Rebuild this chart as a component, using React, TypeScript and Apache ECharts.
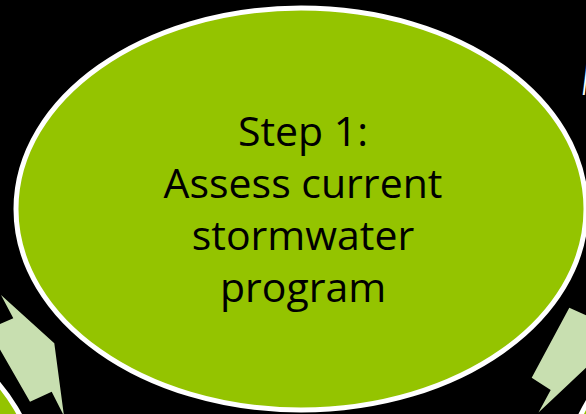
import React, { useEffect, useRef } from "react";
import * as echarts from "echarts";

// Content
const stepLines: string[] = ["Step 1:", "Assess current", "stormwater", "program"];
const cornerLabel: string[] = ["M"];

// Palette
const COLORS = {
  background: "#000000",
  ellipseFill: "#94C400",
  ellipseStroke: "#FFFFFF",
  arrowFill: "#C8DFB0",
  text: "#000000",
  cornerText: "#FFFFFF",
};

const W = 586;
const H = 414;

export default function App() {
  const ref = useRef<HTMLDivElement | null>(null);

  useEffect(() => {
    document.body.style.margin = "0";
    document.body.style.background = "#000";
    if (!ref.current) return;
    const chart = echarts.init(ref.current, undefined, { renderer: "svg", width: W, height: H });

    const ellipse = (cx: number, cy: number, rx: number, ry: number) => ({
      type: "ellipse",
      shape: { cx, cy, rx, ry },
      style: { fill: COLORS.ellipseFill, stroke: COLORS.ellipseStroke, lineWidth: 5 },
      silent: true,
    });

    const arrow = (points: number[][]) => ({
      type: "polygon",
      shape: { points },
      style: { fill: COLORS.arrowFill },
      silent: true,
    });

    chart.setOption({
      animation: false,
      backgroundColor: COLORS.background,
      graphic: [
        // neighbouring cycle steps (partially visible)
        ellipse(-247, 486, 285, 201),
        ellipse(851, 479, 285, 201),
        // arrows
        arrow([
          [1, 295],
          [54.3, 343.3],
          [64, 416],
          [51.7, 391.7],
          [30, 401.7],
          [-2, 346],
          [-2, 325],
          [13.3, 318.3],
        ]),
        arrow([
          [569.3, 307.7],
          [590, 317],
          [590, 364],
          [538.5, 412.5],
          [550.7, 390],
          [531.7, 377.7],
        ]),
        // main step ellipse
        ellipse(301, 209, 285, 201),
        {
          type: "text",
          x: 303,
          y: 208,
          silent: true,
          style: {
            text: stepLines.join("\n"),
            fill: COLORS.text,
            font: "41px 'Open Sans', sans-serif",
            lineHeight: 52,
            align: "center",
            verticalAlign: "middle",
          },
        },
        {
          type: "text",
          x: 580,
          y: 100,
          silent: true,
          style: {
            text: cornerLabel[0],
            fill: COLORS.cornerText,
            font: "italic 300 44px Lato, sans-serif",
            align: "left",
            verticalAlign: "bottom",
          },
        },
      ],
    });

    return () => chart.dispose();
  }, []);

  return (
    <div
      ref={ref}
      style={{ position: "fixed", left: 0, top: 0, width: W, height: H, background: "#000" }}
    />
  );
}
